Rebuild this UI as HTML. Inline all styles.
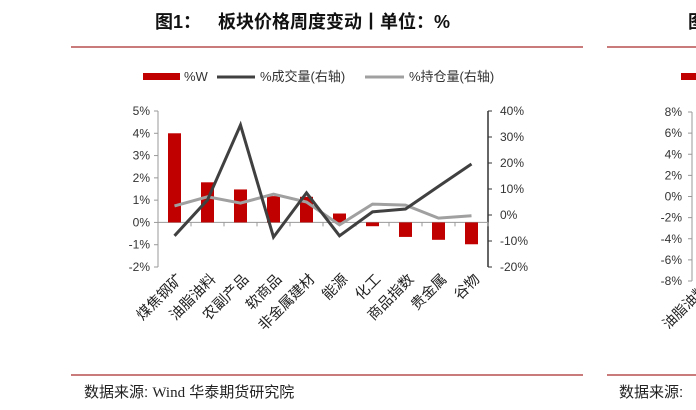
<!DOCTYPE html>
<html><head><meta charset="utf-8"><style>
body{margin:0;background:#fff;width:696px;height:410px;overflow:hidden;font-family:"Liberation Sans","Noto Sans CJK SC",sans-serif;}
svg{display:block}
</style></head><body>
<svg id="c" width="696" height="410" xmlns="http://www.w3.org/2000/svg" font-family="Liberation Sans, Noto Sans CJK SC, sans-serif">
<text x="155" y="28" font-size="18" font-weight="bold" fill="#111">图1：</text>
<text x="218" y="28" font-size="18" font-weight="bold" fill="#111">板块价格周度变动丨单位：%</text>
<line x1="71" y1="47" x2="583" y2="47" stroke="#c97a7a" stroke-width="2"/>
<line x1="71" y1="375" x2="583" y2="375" stroke="#c97a7a" stroke-width="2"/>
<text x="84" y="397" font-size="15" fill="#222">数据来源:  <tspan font-family="Liberation Serif, serif">Wind</tspan>  华泰期货研究院</text>
<g>
<rect x="143" y="73" width="37" height="7" fill="#c00000"/>
<text x="184" y="81" font-size="13" fill="#333">%W</text>
<line x1="217" y1="77" x2="255" y2="77" stroke="#404040" stroke-width="3"/>
<text x="260" y="81" font-size="13" fill="#333">%成交量(右轴)</text>
<line x1="365" y1="77" x2="404" y2="77" stroke="#a0a0a0" stroke-width="3"/>
<text x="409" y="81" font-size="13" fill="#333">%持仓量(右轴)</text>
</g>
<g id="plot"></g>
<g>
<text x="688" y="28" font-size="18" font-weight="bold" fill="#111">图</text>
<line x1="607" y1="47" x2="696" y2="47" stroke="#c97a7a" stroke-width="2"/>
<line x1="607" y1="375" x2="696" y2="375" stroke="#c97a7a" stroke-width="2"/>
<rect x="681" y="73" width="15" height="7" fill="#c00000"/>
<line x1="692" y1="112" x2="692" y2="281" stroke="#999"/>
<text x="619" y="397" font-size="15" fill="#222">数据来源:</text>
<text x="708" y="290" font-size="14" fill="#222" text-anchor="end" transform="rotate(-45 708 290)">油脂油料</text>
<g id="ticks2"></g>
</g>
</svg>
<script>
const categories=["煤焦钢矿","油脂油料","农副产品","软商品","非金属建材","能源","化工","商品指数","贵金属","谷物"];
const wValues=[4.0,1.8,1.48,1.18,1.15,0.4,-0.17,-0.65,-0.78,-0.98];
const volValues=[-8,5.8,34.6,-8.5,8.5,-8,1.2,2.3,11,19.6];
const oiValues=[3.5,7,4.6,8,5,-3.8,4.2,3.8,-1.2,-0.3];
const leftTicks=[5,4,3,2,1,0,-1,-2];
const rightTicks=[40,30,20,10,0,-10,-20];
const nextTicks=[8,6,4,2,0,-2,-4,-6,-8];

const NS="http://www.w3.org/2000/svg";
const g=document.getElementById('plot');
const X0=158,X1=488,TOP=111,BOT=267;
const yL=v=>TOP+(5-v)/7*(BOT-TOP);
const yR=v=>TOP+(40-v)/60*(BOT-TOP);
const step=(X1-X0)/categories.length;
const xC=i=>X0+step*(i+0.5);
function mk(t,a,p){const e=document.createElementNS(NS,t);for(const k in a)e.setAttribute(k,a[k]);(p||g).appendChild(e);return e;}

let e=mk('line',{x1:X0,y1:TOP,x2:X0,y2:BOT,stroke:'#999'});


leftTicks.forEach(v=>{
 const t=mk('line',{x1:X0-4,y1:yL(v),x2:X0,y2:yL(v),stroke:'#999'});
 
 
 const l=mk('text',{x:X0-8,y:yL(v)+4,'font-size':12,fill:'#333','text-anchor':'end'});
 l.textContent=(v<0?'-':'')+Math.abs(v)+'%';
 
 
});
e=mk('line',{x1:X1,y1:TOP,x2:X1,y2:BOT,stroke:'#333','stroke-width':1.5});


rightTicks.forEach(v=>{
 const t=mk('line',{x1:X1,y1:yR(v),x2:X1+4,y2:yR(v),stroke:'#333'});
 
 
 const l=mk('text',{x:X1+12,y:yR(v)+4,'font-size':12,fill:'#333'});
 l.textContent=(v<0?'-':'')+Math.abs(v)+'%';
 
 
});
e=mk('line',{x1:X0,y1:yL(0),x2:X1,y2:yL(0),stroke:'#999'});


categories.forEach((c,i)=>{
 const tx=X0+step*(i+1);
 const t=mk('line',{x1:tx,y1:yL(0),x2:tx,y2:yL(0)+4,stroke:'#999'});
 
 
 const v=wValues[i];
 const b=mk('rect',{x:xC(i)-6.5,y:Math.min(yL(v),yL(0)),width:13,height:Math.abs(yL(v)-yL(0)),fill:'#c00000'});
 
 
 const lx=xC(i)+9,ly=280;
 const l=mk('text',{x:lx,y:ly,'font-size':14.5,fill:'#222','text-anchor':'end',transform:`rotate(-45 ${lx} ${ly})`});
 l.textContent=c;
 
 
});
function line(vals,color,name){
 const p=mk('polyline',{points:vals.map((v,i)=>xC(i)+','+yR(v)).join(' '),fill:'none',stroke:color,'stroke-width':3,'stroke-linejoin':'miter'});
 
 
}
line(oiValues,'#a0a0a0','open-interest-line');
line(volValues,'#404040','volume-line');

const g2=document.getElementById('ticks2');
nextTicks.forEach((v,i)=>{
 const y=112+i*(281-112)/8;
 const t=mk('line',{x1:688,y1:y,x2:692,y2:y,stroke:'#999'},g2);
 
 
 const l=mk('text',{x:682,y:y+4,'font-size':12,fill:'#333','text-anchor':'end'},g2);
 l.textContent=(v<0?'-':'')+Math.abs(v)+'%';
 
 
});
</script>
</body></html>
